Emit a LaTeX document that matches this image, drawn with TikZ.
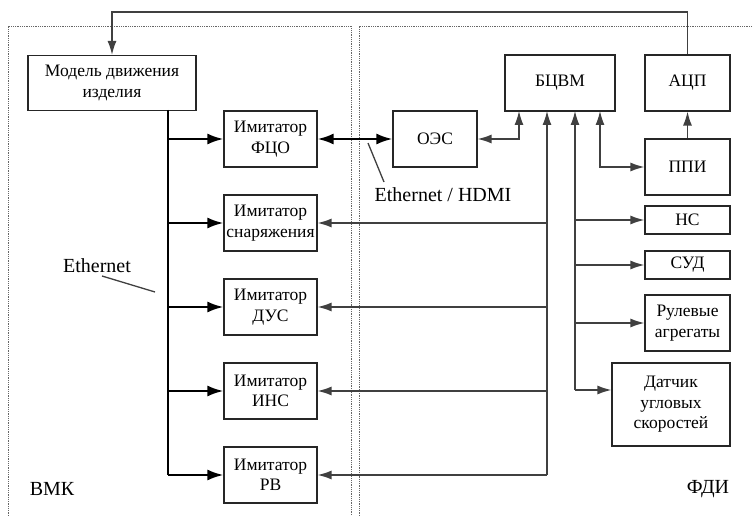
\documentclass[tikz,border=0pt]{standalone}
\usepackage{fontspec}
\setmainfont{Liberation Serif}
\usetikzlibrary{arrows.meta,calc}
\begin{document}
\begin{tikzpicture}[x=1pt,y=-1pt,
  box/.style={draw=black!85,line width=1.2pt,rectangle,inner sep=1pt,align=center,font=\fontsize{17.5}{20.5}\selectfont},
  lbl/.style={font=\fontsize{20}{22}\selectfont,inner sep=0pt},
  ln/.style={draw=black!75,line width=1.3pt},
  tip/.tip={Latex[length=14pt,width=9pt]},
  btip/.tip={Latex[length=16pt,width=11pt]},
  arr/.style={ln,-tip},
  darr/.style={ln,tip-tip},
  bus/.style={draw=black,line width=2.2pt},
  busarr/.style={bus,-btip},
  frame/.style={draw=black!60,densely dotted,line width=0.8pt}]
\useasboundingbox (0,0) rectangle (753,516);
% frames
\draw[frame] (8,516) -- (8,26) -- (351,26) -- (351,516);
\draw[frame] (359,516) -- (359,26) -- (753,26);
% nodes
\node[box,minimum width=168pt,minimum height=55pt] (model) at (112,83) {Модель движения\\изделия};
\node[box,minimum width=93pt,minimum height=56pt] (ifco) at (270.5,139) {Имитатор\\ФЦО};
\node[box,minimum width=93pt,minimum height=56pt] (isn) at (270.5,223) {Имитатор\\снаряжения};
\node[box,minimum width=93pt,minimum height=56pt] (idus) at (270.5,307) {Имитатор\\ДУС};
\node[box,minimum width=93pt,minimum height=56pt] (iins) at (270.5,391) {Имитатор\\ИНС};
\node[box,minimum width=93pt,minimum height=56pt] (irv) at (270.5,475) {Имитатор\\РВ};
\node[box,minimum width=84pt,minimum height=56pt] (oes) at (435,139) {ОЭС};
\node[box,minimum width=110pt,minimum height=56pt] (bcvm) at (560,83) {БЦВМ};
\node[box,minimum width=85pt,minimum height=56pt] (acp) at (687.5,83) {АЦП};
\node[box,minimum width=85pt,minimum height=56pt] (ppi) at (687.5,167) {ППИ};
\node[box,minimum width=85pt,minimum height=28pt] (ns) at (687.5,220) {НС};
\node[box,minimum width=85pt,minimum height=28pt] (sud) at (687.5,265) {СУД};
\node[box,minimum width=85pt,minimum height=56pt] (rul) at (687.5,323) {Рулевые\\агрегаты};
\node[box,minimum width=118pt,minimum height=83pt] (dat) at (671,404.5) {Датчик\\угловых\\скоростей};
% labels
\node[lbl] (eth) at (97,266) {Ethernet};
\node[lbl] (ethh) at (443,195) {Ethernet / HDMI};
\node[lbl] (vmk) at (52,489) {ВМК};
\node[lbl] (fdi) at (708,489) {ФДИ};
\coordinate (ethA) at (102,276);
\coordinate (ethB) at (155,292);
\coordinate (ehA) at (384,182);
\coordinate (ehB) at (368,143);
\draw[ln] (ethA) -- (ethB);
\draw[ln] (ehA) -- (ehB);
% top feedback
\coordinate (top) at (400,12);
\draw[arr] (acp.north) |- (top) -| (model.north);
% left bus
\coordinate (b0) at (168,110);
\coordinate (b1) at (168,475);
\draw[bus] (b0) -- (b1);
\foreach \n in {ifco,isn,idus,iins,irv}{\draw[busarr] (b0 |- \n.west) -- (\n.west);}
% FCO <-> OES
\draw[bus,btip-btip] (ifco.east) -- (oes.west);
% OES <-> BCVM
\coordinate (c1) at (519,111);
\draw[darr] (oes.east) -| (c1);
% right bus 1
\coordinate (r1top) at (547,111);
\coordinate (r1bot) at (547,475);
\draw[arr] (r1bot) -- (r1top);
\foreach \n in {isn,idus,iins,irv}{\draw[arr] (r1top |- \n.east) -- (\n.east);}
% right bus 2
\coordinate (r2top) at (575,111);
\coordinate (r2bot) at (575,390);
\draw[arr] (r2bot) -- (r2top);
\foreach \n in {ns,sud,rul}{\draw[arr] (r2top |- \n.west) -- (\n.west);}
\draw[arr] (r2bot) -- (r2bot -| dat.west);
% BCVM <-> PPI
\coordinate (c2) at (600,111);
\draw[darr] (ppi.west) -| (c2);
% PPI -> ACP
\draw[arr] (ppi.north) -- (acp.south);
\end{tikzpicture}
\end{document}
